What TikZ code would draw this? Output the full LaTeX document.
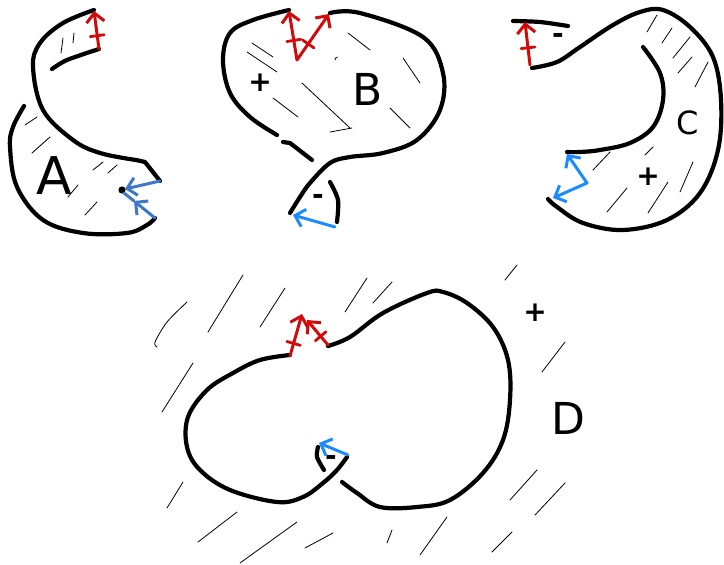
\documentclass[tikz,border=0pt]{standalone}
\usepackage{fontspec}
\setsansfont{DejaVu Sans}
\usepackage{xcolor}
\definecolor{sketchred}{HTML}{D20A0A}
\definecolor{sketchblue}{HTML}{3F78C8}
\definecolor{sketchsky}{HTML}{1A8CFF}
\usepackage{tikz}
\usetikzlibrary{arrows.meta,positioning,calc,decorations.markings}

\begin{document}
\begin{tikzpicture}[x=1pt,y=-1pt,font=\sffamily,
  ink/.style={line width=4.2pt,line cap=round,line join=round},
  hatch/.style={line width=0.8pt,line cap=round},
  arr/.style={line width=3pt,line cap=round,-{Straight Barb[length=9pt,width=18pt,line width=3pt]}},
  redarr/.style={arr,sketchred},
  bluearr/.style={arr,sketchblue},
  skyarr/.style={arr,sketchsky},
  tickmark/.style={postaction={decorate,decoration={markings,
    mark=at position #1 with {\draw[-,line width=2.8pt,line cap=round] (0pt,-7pt) -- (0pt,7pt);}}}},
  letter/.style={inner sep=0pt,font=\sffamily\fontsize{44}{44}\selectfont},
  sign/.style={inner sep=0pt,font=\sffamily\bfseries\fontsize{28}{28}\selectfont}]
\useasboundingbox (0,0) rectangle (724,565);
% shape A
\draw[ink] plot[smooth,tension=0.6] coordinates {(94,10) (63,23) (40,43) (33,67) (43,110) (73,140) (100,153) (136,160)}
  -- (145,162) -- (160,181);
\draw[ink] plot[smooth] coordinates {(52,69) (67,60) (99,49)};
\draw[ink] plot[smooth,tension=0.6] coordinates {(24,106) (13,127) (10,147) (17,187) (43,220) (83,233) (127,233) (147,225) (155,218)};
\fill (122,190) circle (3.6pt);
\draw[redarr,tickmark=0.35] (99,49) -- (94,11);
\draw[bluearr] (160,181) -- (125,189);
\draw[bluearr] (155,218) -- (134,201);
\draw[sketchblue,line width=3pt,line cap=round] (134,201) -- (124,193);
\foreach \a/\b in {{(61,53)/(63,38)},{(73,43)/(74,33)},{(25,125)/(37,117)},{(32,153)/(50,137)},
  {(93,170)/(103,162)},{(108,173)/(117,165)},{(68,197)/(78,185)},{(85,215)/(97,202)}}
  \draw[hatch] \a -- \b;
\node[letter,font=\sffamily\fontsize{52}{52}\selectfont] (labA) at (54,176) {A};
% shape B
\draw[ink] plot[smooth,tension=0.6] coordinates {(289,10) (253,20) (230,33) (223,60) (230,93) (250,117) (277,135)};
\draw[ink] (283,142) -- (290,143) -- (312,160);
\draw[ink] plot[smooth,tension=0.6] coordinates {(330,13) (360,13) (423,37) (443,73) (440,110) (417,140) (383,153)
  (350,157) (330,163) (310,183) (300,197) (290,213)};
\draw[ink] plot[smooth] coordinates {(330,182) (338,200) (337,222)};
\draw[redarr,tickmark=0.4] (297,60) -- (289,11);
\draw[redarr,tickmark=0.35] (297,60) -- (329,14);
\draw[skyarr] (335,227) -- (293,215);
\foreach \a/\b in {{(252,43)/(273,57)},{(247,52)/(277,72)},{(273,98)/(298,117)},{(302,83)/(350,128)},
  {(330,132)/(352,128)},{(348,33)/(370,50)},{(403,58)/(420,83)},{(390,108)/(410,128)}}
  \draw[hatch] \a -- \b;
\draw[hatch] (335,60) arc (180:260:3);
\node[sign] (plusB) at (260,83) {+};
\node[letter] (labB) at (368,89) {B};
\node[sign] (minusB) at (318,199) {-};
% shape C
\draw[ink] plot[smooth] coordinates {(513,21) (540,22) (568,26)};
\draw[ink] plot[smooth,tension=0.6] coordinates {(532,68) (557,62) (580,47) (613,25) (640,12) (663,10) (690,27)
  (713,57) (721,100) (718,150) (700,193) (667,220) (623,230) (583,223) (557,207) (548,199)};
\draw[ink] plot[smooth,tension=0.6] coordinates {(643,47) (660,73) (663,100) (653,127) (630,143) (600,150) (580,152) (567,152)};
\draw[redarr,tickmark=0.4] (530,65) -- (525,22);
\draw[sketchsky,line width=3pt,line cap=round,line join=round,
  {Straight Barb[length=9pt,width=18pt,line width=3pt]}-{Straight Barb[length=9pt,width=18pt,line width=3pt]}]
  (553,198) -- (587,183) -- (567,154);
\foreach \a/\b in {{(647,32)/(657,15)},{(662,43)/(672,28)},{(673,58)/(690,37)},{(678,73)/(692,57)},
  {(695,87)/(708,62)},{(593,170)/(610,152)},{(645,155)/(653,147)},{(607,212)/(627,188)},
  {(648,213)/(668,182)},{(680,192)/(693,162)}}
  \draw[hatch] \a -- \b;
\node[sign] (minusC) at (558,38) {-};
\node[letter,font=\sffamily\fontsize{32}{32}\selectfont] (labC) at (688,123) {C};
\node[sign] (plusC) at (648,177) {+};
% shape D
\draw[ink] plot[smooth,tension=0.6] coordinates {(290,355) (260,360) (233,373) (207,390) (188,417) (187,447) (200,470)
  (230,490) (277,502) (303,497) (323,483) (337,470) (347,457)};
\draw[ink] plot[smooth,tension=0.6] coordinates {(328,346) (350,337) (383,313) (427,293) (443,292) (467,303) (493,327)
  (508,360) (510,400) (503,440) (483,473) (450,500) (417,507) (380,507) (357,493) (342,482)};
\draw[ink] plot[smooth] coordinates {(318,447) (317,457) (324,470)};
\draw[redarr,tickmark=0.3] (290,356) -- (302,314);
\draw[redarr,tickmark=0.35] (328,345) -- (307,320);
\draw[skyarr] (348,455) -- (319,443);
\draw[hatch] plot[smooth] coordinates {(157,347) (155,342) (167,322) (187,302)};
\foreach \a/\b in {{(208,332)/(243,275)},{(260,327)/(285,288)},{(345,312)/(367,278)},{(373,303)/(392,282)},
  {(505,280)/(517,265)},{(542,372)/(565,342)},{(162,412)/(193,363)},{(167,508)/(183,482)},
  {(198,542)/(237,512)},{(240,563)/(297,522)},{(305,548)/(333,533)},{(387,543)/(392,530)},
  {(420,555)/(447,517)},{(492,552)/(512,532)},{(510,500)/(537,470)},{(535,515)/(565,483)}}
  \draw[hatch] \a -- \b;
\node[sign] (plusD) at (535,313) {+};
\node[sign] (minusD) at (331,460) {-};
\node[letter] (labD) at (568,418) {D};
\end{tikzpicture}
\end{document}
